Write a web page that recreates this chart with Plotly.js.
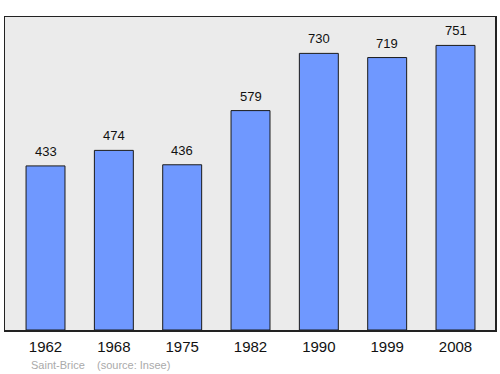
<!DOCTYPE html>
<html>
<head>
<meta charset="utf-8">
<script src="https://cdn.plot.ly/plotly-3.0.1.min.js"></script>
<style>html,body{margin:0;padding:0;background:#fff;}#chart{width:500px;height:374px;}</style>
</head>
<body>
<div id="chart"></div>
<script>
const years = ["1962", "1968", "1975", "1982", "1990", "1999", "2008"];
const population = [433, 474, 436, 579, 730, 719, 751];
const caption = "Saint-Brice    (source: Insee)";

const trace = {
  type: "bar",
  x: years.map((_, i) => i),
  y: population,
  width: 0.57,
  marker: {color: "#6f98ff", line: {color: "#1a1a1a", width: 1}},
  hoverinfo: "none"
};

const annotations = population.map((v, i) => ({
  x: i, y: v, xref: "x", yref: "y",
  text: String(v), showarrow: false,
  yanchor: "bottom", yshift: 5,
  font: {family: "Liberation Sans, Arial, sans-serif", size: 13, color: "#111"}
}));
annotations.push({
  xref: "paper", yref: "paper", x: 0.049, y: -0.112,
  xanchor: "left", yanchor: "middle",
  text: caption.replace(/ /g, "&nbsp;"), showarrow: false,
  font: {family: "Liberation Sans, Arial, sans-serif", size: 11, color: "#aaaaaa"}
});

const layout = {
  width: 500, height: 374,
  margin: {l: 5, r: 5, t: 17, b: 44},
  paper_bgcolor: "#ffffff",
  plot_bgcolor: "#ebebeb",
  showlegend: false,
  xaxis: {
    range: [-0.593, 6.578],
    tickvals: years.map((_, i) => i),
    ticktext: years,
    ticks: "", showgrid: false, zeroline: false,
    ticklabelstandoff: 2,
    showline: true, mirror: true, linecolor: "#222", linewidth: 1.5,
    tickfont: {family: "Liberation Sans, Arial, sans-serif", size: 15, color: "#111"}
  },
  yaxis: {
    range: [0, 826],
    showticklabels: false, ticks: "", showgrid: false, zeroline: false,
    showline: true, mirror: true, linecolor: "#222", linewidth: 1.5
  },
  annotations: annotations
};

Plotly.newPlot("chart", [trace], layout, {staticPlot: true, displayModeBar: false});
</script>
</body>
</html>
